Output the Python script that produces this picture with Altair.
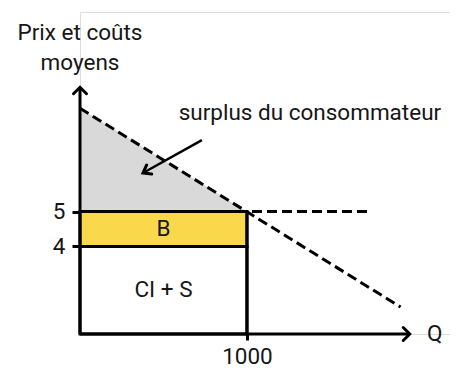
import altair as alt
import pandas as pd

# ---- values ----
price_ticks = [4, 5]
q_ticks = [1000]

q_eq = 1000          # quantity
p_price = 5          # price
p_cost = 4           # average cost (CI + S)
p_floor = 1.5        # where the Q axis sits
p_top = 10.7
q_max = 2216

demand_q = [0, 1920]
demand_p = [7.95, 2.27]
flat_q = [1030, 1720]
flat_p = [5, 5]
yaxis_q = [0, 0]
yaxis_p = [1.5, 8.55]
xaxis_q = [0, 1975]
xaxis_p = [1.5, 1.5]
vline_q = [1000, 1000]
vline_p = [5, 1.5]
note_q = [730, 377]
note_p = [7.04, 6.1]

labels_text = ["surplus du consommateur", "B", "CI + S", "Q", "Prix et coûts", "moyens"]
labels_q = [1377, 500, 500, 2125, 0, 0]
labels_p = [7.61, 4.5, 2.75, 1.5, 9.9, 9.04]
labels_base = ["alphabetic", "middle", "middle", "middle", "alphabetic", "alphabetic"]

FONT = "Roboto"
INK = "#161616"
FS = 22.5

xs = alt.Scale(domain=[0, q_max], nice=False, zero=False)
ys = alt.Scale(domain=[p_floor, p_top], nice=False, zero=False)
xaxis = alt.Axis(values=q_ticks, format="d", domain=False, grid=False, title=None,
                 tickSize=6, tickWidth=3, tickColor="black", labelFont=FONT,
                 labelFontSize=FS, labelColor=INK, labelPadding=5)
yaxis = alt.Axis(values=price_ticks, format="d", domain=False, grid=False, title=None,
                 tickSize=8, tickWidth=3, tickColor="black", labelFont=FONT,
                 labelFontSize=FS, labelColor=INK, labelPadding=7)


def X(f):
    return alt.X(f, type="quantitative", scale=xs, axis=xaxis)


def Y(f):
    return alt.Y(f, type="quantitative", scale=ys, axis=yaxis)


surplus_df = pd.DataFrame({"q": [0, q_eq], "top": [demand_p[0], p_price], "base": [p_price, p_price]})
surplus = alt.Chart(surplus_df).mark_area(color="#d9d9d9", opacity=1).encode(
    x=X("q"), y=Y("top"), y2="base")

rect_df = pd.DataFrame({"q0": [0, 0], "q1": [q_eq, q_eq], "p0": [p_cost, p_floor], "p1": [p_price, p_cost],
                        "fill": ["#f9d84b", "#ffffff"]})
rects = alt.Chart(rect_df).mark_rect(stroke="black", strokeWidth=3).encode(
    x=X("q0"), x2="q1", y=Y("p0"), y2="p1", fill=alt.Fill("fill:N", scale=None))


def line(qs, ps, dash=None, width=3):
    df = pd.DataFrame({"q": qs, "p": ps, "o": list(range(len(qs)))})
    kw = dict(color="black", strokeWidth=width, strokeCap="butt")
    if dash:
        kw["strokeDash"] = dash
    return alt.Chart(df).mark_line(**kw).encode(x=X("q"), y=Y("p"), order="o:Q")


demand = line(demand_q, demand_p, [10, 5])
flat = line(flat_q, flat_p, [10, 5])
yline = line(yaxis_q, yaxis_p)
xline = line(xaxis_q, xaxis_p)
vline = line(vline_q, vline_p)
note = line(note_q, note_p, width=2.5)


def head(q, p, shape, angle=0):
    df = pd.DataFrame({"q": [q], "p": [p]})
    return alt.Chart(df).mark_point(shape=shape, filled=False, color="black", strokeWidth=3,
                                    size=169, opacity=1, angle=angle, strokeCap="round").encode(
        x=X("q"), y=Y("p"))


yhead = head(yaxis_q[1], yaxis_p[1], "M-1,1L0,0L1,1")
xhead = head(xaxis_q[1], xaxis_p[1], "M-1,-1L0,0L-1,1")
nhead = head(note_q[1], note_p[1], "M-0.8,1.1L0,0L0.8,1.1", angle=241)

text_layers = []
for base in ["alphabetic", "middle"]:
    df = pd.DataFrame({"t": labels_text, "q": labels_q, "p": labels_p, "b": labels_base})
    df = df[df["b"] == base]
    text_layers.append(
        alt.Chart(df).mark_text(font=FONT, fontSize=FS, color=INK, align="center", baseline=base).encode(
            x=X("q"), y=Y("p"), text="t:N"))

chart = alt.layer(surplus, rects, demand, flat, vline, yline, xline, note, yhead, xhead, nhead,
                  *text_layers).properties(
    width=370, height=322,
    autosize=alt.AutoSizeParams(type="none"),
    padding={"left": 72, "top": 4, "right": 0, "bottom": 40},
).configure_view(stroke=None).configure(background="white")

chart.save("out.html", embed_options={"renderer": "svg", "actions": False})
